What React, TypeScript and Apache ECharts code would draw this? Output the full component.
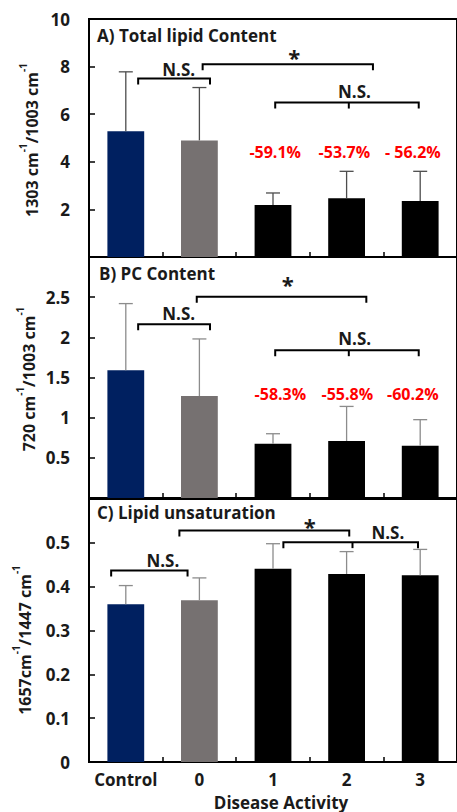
import React, { useEffect, useRef } from "react";
import * as echarts from "echarts";

const categories = ["Control", "0", "1", "2", "3"];

const lipidMean = [5.28, 4.9, 2.19, 2.47, 2.35];
const lipidErr = [2.5, 2.22, 0.5, 1.13, 1.25];
const pcMean = [1.59, 1.27, 0.675, 0.71, 0.65];
const pcErr = [0.83, 0.71, 0.125, 0.43, 0.325];
const unsatMean = [0.36, 0.369, 0.441, 0.429, 0.426];
const unsatErr = [0.0425, 0.051, 0.057, 0.051, 0.059];

const lipidPct = ["-59.1%", "-53.7%", "- 56.2%"];
const lipidPctX = [2.03, 2.97, 3.9];
const lipidPctY = 4.4;
const pcPct = ["-58.3%", "-55.8%", "-60.2%"];
const pcPctX = [2.1, 3.01, 3.9];
const pcPctY = 1.29;

// significance brackets: x in category units (0 = Control), y in data units
const lipidBrackets = [
  { x1: 0.168, x2: 1.144, y: 7.5, label: "N.S.", lx: 0.718, ly: 7.89 },
  { x1: 1.044, x2: 3.358, y: 8.1, label: "*", lx: 2.29, ly: 8.73 },
  { x1: 2.03, x2: 3.98, mid: 3.03, y: 6.49, label: "N.S.", lx: 3.107, ly: 6.97 },
];
const pcBrackets = [
  { x1: 0.168, x2: 1.144, y: 2.164, label: "N.S.", lx: 0.718, ly: 2.293 },
  { x1: 0.964, x2: 3.268, y: 2.506, label: "*", lx: 2.2, ly: 2.76 },
  { x1: 2.03, x2: 3.98, mid: 3.03, y: 1.84, label: "N.S.", lx: 3.11, ly: 1.99 },
];
const unsatBrackets = [
  { x1: -0.199, x2: 0.839, y: 0.4368, label: "N.S.", lx: 0.503, ly: 0.4596 },
  { x1: 0.728, x2: 3.036, y: 0.528, label: "*", lx: 2.5, ly: 0.556 },
  { x1: 2.141, x2: 3.97, mid: 3.08, y: 0.5016, label: "N.S.", lx: 3.56, ly: 0.5244 },
];

const panelTitles = ["A) Total lipid Content", "B) PC Content", "C) Lipid unsaturation"];
const yNames = [
  "{n|1303 cm}{s|-1}{n|/1003 cm}{s|-1}",
  "{n|720 cm}{s|-1}{n|/1003 cm}{s|-1}",
  "{n|1657cm}{s|-1}{n|/1447 cm}{s|-1}",
];
const xName = "Disease Activity";

const FONT = '"Open Sans", Lato, sans-serif';
const TXT = "#1a1a1a";
const barColors = ["#002060", "#767171", "#000000", "#000000", "#000000"];

const grids = [
  { left: 89, top: 19, width: 372, height: 238 },
  { left: 89, top: 257, width: 372, height: 241 },
  { left: 89, top: 499, width: 372, height: 263 },
];
const yRanges = [
  { min: 0, max: 10, interval: 2, hide: [0] },
  { min: 0, max: 3, interval: 0.5, hide: [0, 3] },
  { min: 0, max: 0.6, interval: 0.1, hide: [0.6] },
];
const errColors = ["#4d4d4d", "#8c8c8c", "#8c8c8c"];
const FS = 17;

function buildOption() {
  const means = [lipidMean, pcMean, unsatMean];
  const errs = [lipidErr, pcErr, unsatErr];
  const brackets = [lipidBrackets, pcBrackets, unsatBrackets];

  const xAxis: any[] = [];
  const yAxis: any[] = [];
  const series: any[] = [];

  grids.forEach((g, gi) => {
    xAxis.push({
      gridIndex: gi,
      type: "category",
      data: categories,
      axisLine: { show: true, onZero: false, lineStyle: { color: "#000", width: 2 } },
      axisTick: { show: true, inside: true, length: 5, lineStyle: { color: "#000", width: 1.5 } },
      axisLabel: {
        show: gi === 2,
        interval: 0,
        margin: 9,
        color: TXT,
        fontSize: FS,
        fontWeight: "bold",
        fontFamily: FONT,
      },
    });
    xAxis.push({ gridIndex: gi, type: "value", min: -0.5, max: 4.5, show: false });
    const r = yRanges[gi];
    yAxis.push({
      gridIndex: gi,
      type: "value",
      min: r.min,
      max: r.max,
      interval: r.interval,
      axisLine: { show: true, onZero: false, lineStyle: { color: "#000", width: 2 } },
      axisTick: { show: true, inside: true, length: 6, lineStyle: { color: "#000", width: 1.5 } },
      splitLine: { show: false },
      axisLabel: {
        margin: 19,
        color: TXT,
        fontSize: FS,
        fontWeight: "bold",
        fontFamily: FONT,
        formatter: (v: number) => (r.hide.some((h) => Math.abs(h - v) < 1e-9) ? "" : String(+v.toFixed(2))),
      },
    });

    series.push({
      type: "bar",
      xAxisIndex: gi * 2,
      yAxisIndex: gi,
      barWidth: "50%",
      data: means[gi].map((v, i) => ({ value: v, itemStyle: { color: barColors[i] } })),
      z: 2,
    });

    const ec = errColors[gi];
    series.push({
      type: "custom",
      xAxisIndex: gi * 2,
      yAxisIndex: gi,
      z: 3,
      data: means[gi].map((m, i) => [i, m, m + errs[gi][i]]),
      renderItem: (params: any, api: any) => {
        const x = api.value(0);
        const b = api.coord([x, api.value(1)]);
        const t = api.coord([x, api.value(2)]);
        return {
          type: "group",
          children: [
            { type: "line", shape: { x1: b[0], y1: b[1], x2: t[0], y2: t[1] }, style: { stroke: ec, lineWidth: 1.3 } },
            { type: "line", shape: { x1: t[0] - 7, y1: t[1], x2: t[0] + 7, y2: t[1] }, style: { stroke: ec, lineWidth: 1.3 } },
          ],
        };
      },
    });

    const list = brackets[gi];
    series.push({
      type: "custom",
      xAxisIndex: gi * 2 + 1,
      yAxisIndex: gi,
      z: 4,
      data: list.map((b) => [b.x1, b.y]),
      renderItem: (params: any, api: any) => {
        const b: any = list[params.dataIndex];
        const p1 = api.coord([b.x1, b.y]);
        const p2 = api.coord([b.x2, b.y]);
        const tk = 6;
        const st = { stroke: "#000", lineWidth: 2 };
        const children: any[] = [
          { type: "polyline", shape: { points: [[p1[0], p1[1] + tk], [p1[0], p1[1]], [p2[0], p2[1]], [p2[0], p2[1] + tk]] }, style: { ...st, fill: null } },
        ];
        if (b.mid !== undefined) {
          const pm = api.coord([b.mid, b.y]);
          children.push({ type: "line", shape: { x1: pm[0], y1: pm[1], x2: pm[0], y2: pm[1] + tk }, style: st });
        }
        const lp = api.coord([b.lx, b.ly]);
        const star = b.label === "*";
        children.push({
          type: "text",
          x: lp[0],
          y: lp[1] + (star ? 8 : 0),
          style: {
            text: b.label,
            fill: TXT,
            fontSize: star ? 22 : FS,
            fontWeight: "bold",
            fontFamily: FONT,
            align: "center",
            verticalAlign: "middle",
          },
        });
        return { type: "group", children };
      },
    });
  });

  const pctSets = [
    { gi: 0, labels: lipidPct, xs: lipidPctX, y: lipidPctY },
    { gi: 1, labels: pcPct, xs: pcPctX, y: pcPctY },
  ];
  pctSets.forEach((s) => {
    series.push({
      type: "custom",
      xAxisIndex: s.gi * 2 + 1,
      yAxisIndex: s.gi,
      z: 4,
      data: s.xs.map((x) => [x, s.y]),
      renderItem: (params: any, api: any) => {
        const p = api.coord([api.value(0), api.value(1)]);
        return {
          type: "text",
          x: p[0],
          y: p[1],
          style: {
            text: s.labels[params.dataIndex],
            fill: "#ff0000",
            fontSize: 16,
            fontWeight: "bold",
            fontFamily: FONT,
            align: "center",
            verticalAlign: "middle",
          },
        };
      },
    });
  });

  const titlePos = [
    [97, 35],
    [99, 273],
    [97, 512],
  ];
  const yNamePos = [
    [29, 140],
    [26, 379],
    [22, 640],
  ];
  const graphic: any[] = [];
  panelTitles.forEach((t, i) => {
    graphic.push({
      type: "text",
      x: titlePos[i][0],
      y: titlePos[i][1],
      style: { text: t, fill: TXT, fontSize: FS, fontWeight: "bold", fontFamily: FONT, align: "left", verticalAlign: "middle" },
    });
  });
  yNames.forEach((t, i) => {
    graphic.push({
      type: "text",
      x: yNamePos[i][0],
      y: yNamePos[i][1],
      rotation: Math.PI / 2,
      style: {
        text: t,
        fill: TXT,
        align: "center",
        verticalAlign: "middle",
        rich: {
          n: { fontSize: 16, fontWeight: "bold", fontFamily: FONT, fill: TXT, lineHeight: 22, verticalAlign: "bottom" },
          s: { fontSize: 10, fontWeight: "bold", fontFamily: FONT, fill: TXT, lineHeight: 12, verticalAlign: "top" },
        },
      },
    });
  });
  graphic.push({
    type: "text",
    x: 281,
    y: 802,
    style: { text: xName, fill: TXT, fontSize: FS, fontWeight: "bold", fontFamily: FONT, align: "center", verticalAlign: "middle" },
  });

  return {
    animation: false,
    backgroundColor: "#ffffff",
    grid: grids.map((g) => ({ ...g, show: true, borderColor: "#000", borderWidth: 2, backgroundColor: "transparent", containLabel: false })),
    xAxis,
    yAxis,
    series,
    graphic,
  };
}

export default function App() {
  const ref = useRef<HTMLDivElement>(null);
  useEffect(() => {
    if (!ref.current) return;
    const chart = echarts.init(ref.current, null, { renderer: "svg" });
    chart.setOption(buildOption() as any);
    return () => chart.dispose();
  }, []);
  return (
    <div
      ref={ref}
      style={{ position: "fixed", left: 0, top: 0, width: 457, height: 812, background: "#fff" }}
    />
  );
}
